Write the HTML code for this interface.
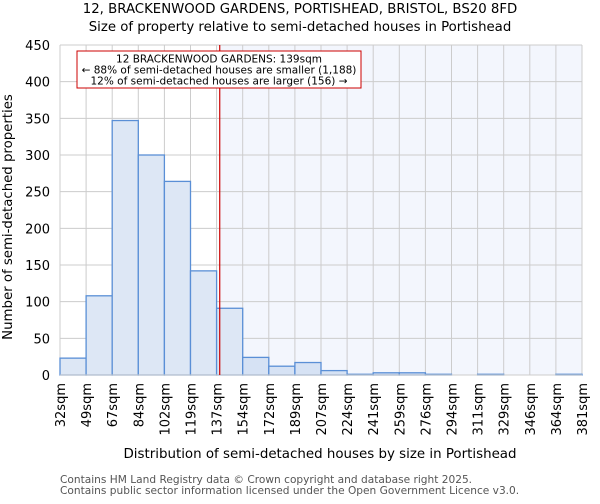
<!DOCTYPE html>
<html><head><meta charset="utf-8"><style>
body{margin:0;background:#fff;font-family:"DejaVu Sans","Liberation Sans",sans-serif}
svg text{font-family:"DejaVu Sans","Liberation Sans",sans-serif}
</style></head><body>
<svg id="c" width="600" height="500" xmlns="http://www.w3.org/2000/svg">
<text x="300" y="13" text-anchor="middle" font-size="13.3">12, BRACKENWOOD GARDENS, PORTISHEAD, BRISTOL, BS20 8FD</text>
<text x="300" y="31" text-anchor="middle" font-size="13.3">Size of property relative to semi-detached houses in Portishead</text>
<g id="plot"></g>
<text x="320" y="458" text-anchor="middle" font-size="13.4">Distribution of semi-detached houses by size in Portishead</text>
<text transform="translate(12,217) rotate(-90)" text-anchor="middle" font-size="13.3">Number of semi-detached properties</text>
<text x="60" y="483" font-size="10.6" fill="#555">Contains HM Land Registry data © Crown copyright and database right 2025.</text>
<text x="60" y="494" font-size="10.6" fill="#555">Contains public sector information licensed under the Open Government Licence v3.0.</text>
</svg>
<script>
const binLabels=["32sqm","49sqm","67sqm","84sqm","102sqm","119sqm","137sqm","154sqm","172sqm","189sqm","207sqm","224sqm","241sqm","259sqm","276sqm","294sqm","311sqm","329sqm","346sqm","364sqm","381sqm"];
const counts=[23,108,347,300,264,142,91,24,12,17,6,1,3,3,1,0,1,0,0,1];
const yTicks=[0,50,100,150,200,250,300,350,400,450];
const subjectIndex=6.12;
const NS="http://www.w3.org/2000/svg";
const g=document.getElementById('plot');
const X0=60,X1=582,Y0=375,Y1=45,YMAX=450;
const bw=(X1-X0)/counts.length;
const xs=i=>X0+i*bw;
const ys=v=>Y0-(v/YMAX)*(Y0-Y1);
function mk(t,a){const e=document.createElementNS(NS,t);for(const k in a)e.setAttribute(k,a[k]);g.appendChild(e);return e;}
const sx=xs(subjectIndex);
let r=mk('rect',{x:sx,y:Y1,width:X1-sx,height:Y0-Y1,fill:'#f3f6fd'});


yTicks.forEach(v=>{
 let l=mk('line',{x1:X0,x2:X1,y1:ys(v),y2:ys(v),stroke:'#ccc','stroke-width':1});
 
 
 let t=mk('text',{x:X0-10,y:ys(v)+5,'text-anchor':'end','font-size':13});
 t.textContent=v;
 
 
});
binLabels.forEach((s,i)=>{
 let l=mk('line',{x1:xs(i),x2:xs(i),y1:Y1,y2:Y0,stroke:'#ccc','stroke-width':1});
 
 
 let t=mk('text',{transform:`translate(${xs(i)+5},383) rotate(-90)`,'text-anchor':'end','font-size':13});
 t.textContent=s;
 
 
});
counts.forEach((v,i)=>{
 let b=mk('rect',{x:xs(i),y:ys(v),width:bw,height:Y0-ys(v),fill:i>=subjectIndex?'#d6e2f4':'#dde7f5',stroke:'#5a8fd6','stroke-width':1.3});
 
 
});
let ax=mk('line',{x1:X0,x2:X1,y1:Y0,y2:Y0,stroke:'#ccc'});


let ml=mk('line',{x1:sx,x2:sx,y1:Y1,y2:Y0,stroke:'#c00','stroke-width':1.2});


let box=mk('rect',{x:77,y:51,width:284,height:37,fill:'#fff',stroke:'#c00','stroke-width':1});


["12 BRACKENWOOD GARDENS: 139sqm","← 88% of semi-detached houses are smaller (1,188)","12% of semi-detached houses are larger (156) →"].forEach((s,i)=>{
 let t=mk('text',{x:219,y:62.5+i*11,'text-anchor':'middle','font-size':10.5});
 t.textContent=s;
 
 
});
</script>
</body></html>
